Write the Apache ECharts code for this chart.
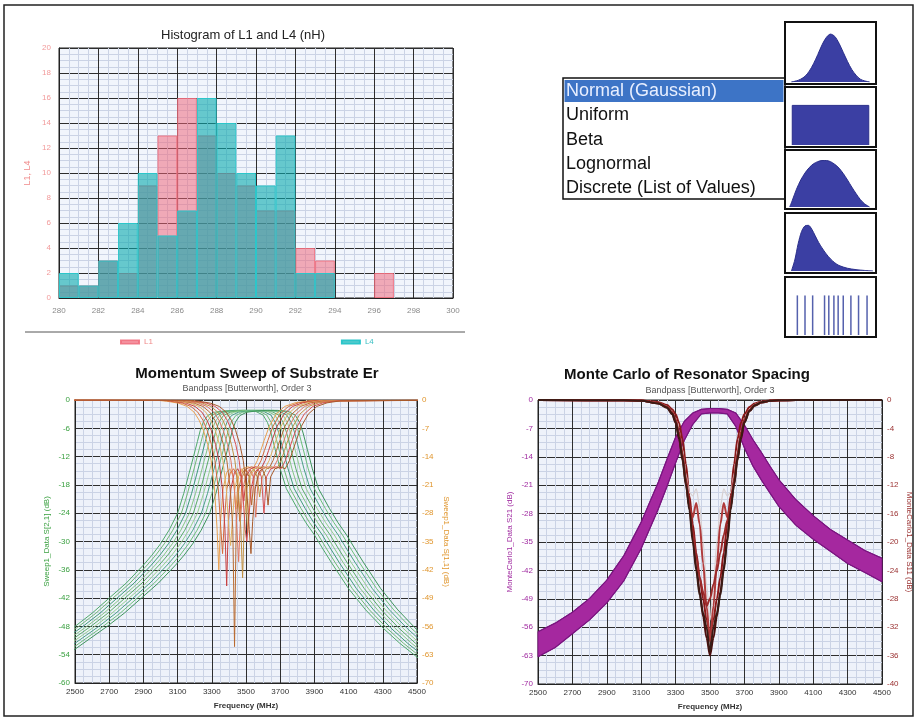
<!DOCTYPE html>
<html><head><meta charset="utf-8">
<script src="https://cdn.jsdelivr.net/npm/echarts@6/dist/echarts.min.js"></script>
<style>html,body{margin:0;padding:0;background:#fff}#c{width:917px;height:721px}</style>
</head><body><div id="c"></div>
<script>
// ---------------- DATA ----------------
// Histogram (bins of 1 nH starting at each value)
const histBins = [280,281,282,283,284,285,286,287,288,289,290,291,292,293,294,295,296,297,298,299];
const histL1   = [1,1,3,2,9,13,16,13,10,9,7,7,4,3,0,0,2,0,0,0];
const histL4   = [2,1,3,6,10,5,7,16,14,10,9,13,2,2,0,0,0,0,0,0];

// Distribution list
const distNames = ['Normal (Gaussian)','Uniform','Beta','Lognormal','Discrete (List of Values)'];
const gaussX = [0.04,0.1,0.15,0.2,0.25,0.3,0.35,0.4,0.45,0.5,0.55,0.6,0.65,0.7,0.75,0.8,0.85,0.9,0.96];
const gaussY = [0,0.02,0.05,0.1,0.19,0.32,0.48,0.65,0.78,0.84,0.8,0.68,0.52,0.36,0.22,0.12,0.05,0.02,0];
const uniformX = [0.05,0.05,0.95,0.95];
const uniformY = [0,0.72,0.72,0];
const betaX = [0.02,0.05,0.1,0.15,0.2,0.25,0.3,0.35,0.4,0.45,0.5,0.55,0.6,0.65,0.7,0.75,0.8,0.85,0.9,0.96];
const betaY = [0,0.12,0.33,0.5,0.63,0.73,0.8,0.84,0.86,0.86,0.84,0.79,0.72,0.62,0.5,0.37,0.25,0.14,0.06,0];
const lognX = [0.04,0.08,0.12,0.16,0.2,0.24,0.28,0.32,0.36,0.4,0.45,0.5,0.55,0.6,0.7,0.8,0.9,1.0];
const lognY = [0,0.2,0.5,0.72,0.82,0.83,0.76,0.64,0.52,0.42,0.31,0.22,0.15,0.1,0.05,0.025,0.01,0];
const discreteX = [0.11,0.2,0.29,0.43,0.48,0.54,0.59,0.65,0.74,0.83,0.93];
const discreteY = [0.72,0.72,0.72,0.72,0.72,0.72,0.72,0.72,0.72,0.72,0.72];

// Momentum sweep: S21 profile (offset MHz from each curve's centre, dB) and curve centres
const sweepCenters = [3436,3458,3482,3505,3528,3552,3575,3600,3624];
const s21Offsets = [-1350,-1150,-936,-836,-736,-636,-536,-486,-436,-386,-336,-300,-270,-243,-220,-204,-185,-160,-120,-60,0,60,120,164,190,210,235,264,300,364,414,464,514,564,664,764,864,964,1064,1200,1400];
const s21Profile = [-58,-53.5,-48,-45.2,-42,-38.8,-35,-32.9,-30.5,-27.6,-24,-19.8,-15.7,-12,-8.8,-6.5,-4.6,-3.3,-2.6,-2.3,-2.2,-2.2,-2.4,-3.2,-4.8,-7,-10.5,-14.6,-18.8,-23,-26,-28.6,-31.6,-34.5,-40,-44.5,-48.3,-51.6,-54.5,-58,-62];
// S11 profile (right axis dB) with per-curve notch depths
const s11Offsets = [-1400,-450,-400,-330,-280,-240,-210,-185,-160,-140,-120,-105,-95,-85,-70,-50,-30,-10,5,20,45,75,105,130,150,170,200,240,290,350,430,1400];
const s11Profile = [0,-0.1,-0.3,-0.8,-1.6,-3,-5,-7.5,-11,-15,-22,-32,-40,-30,-22,-18,-17,-19,-24,-19,-17,-16.5,-17,-15,-12.5,-10,-6.5,-3.5,-1.6,-0.7,-0.2,0];
const s11Notch1 = [-42,-38,-46,-36,-61,-40,-44,-35,-38];
const s11Notch2 = [-27,-30,-25,-33,-26,-29,-24,-28,-26];

// Monte Carlo: S21 band (upper/lower envelope, left axis) and S11 curves (right axis)
const mcBandF = [2500,2600,2700,2800,2900,3000,3100,3200,3250,3300,3350,3400,3450,3500,3550,3600,3650,3700,3750,3800,3850,3900,4000,4100,4200,4300,4400,4500];
const mcBandUpper = [-57.1,-55,-52.3,-48.9,-44.4,-38.3,-30.1,-20.2,-14.6,-9.2,-5.3,-3.2,-2.3,-2.1,-2.1,-2.3,-3.2,-6.2,-9.8,-13,-16.4,-19.6,-24.6,-28.5,-31.9,-34.5,-37.1,-39];
const mcBandLower = [-63.3,-61,-57.6,-54.2,-50,-44.5,-36.6,-26.8,-21.3,-15.5,-10,-6,-3.4,-3.2,-3.2,-3.4,-6.5,-11.8,-16.3,-19.8,-23,-26.2,-30.9,-34.3,-37.3,-40.3,-42.5,-44.8];
const mcS11F = [2500,3000,3100,3200,3250,3280,3300,3320,3340,3360,3380,3400,3420,3440,3460,3480,3500,3520,3540,3560,3580,3600,3620,3640,3660,3680,3700,3730,3760,3800,3850,3900,4000,4500];
const mcS11A = [0,-0.05,-0.1,-0.5,-1.1,-2,-3.2,-5.5,-8.5,-12,-15,-19.5,-23.5,-27,-30.5,-33.5,-36,-33.5,-30.5,-27,-23.5,-19.5,-15,-12,-8.5,-5.5,-3.2,-1.6,-0.8,-0.35,-0.12,-0.05,0,0];
const mcS11B = [0,-0.03,-0.07,-0.3,-0.7,-1.3,-2,-3.2,-5.5,-9,-13.5,-17.5,-21.5,-25,-28,-31,-33,-31,-28,-25,-21.5,-17.5,-13.5,-9,-5.5,-3.2,-2,-1,-0.5,-0.2,-0.08,-0.03,0,0];
const mcS11C = [0,-0.04,-0.08,-0.4,-0.9,-1.6,-2.6,-4.3,-7,-10.5,-13,-13.5,-12.5,-15,-20,-26,-31,-26,-20,-15,-12.5,-13.5,-13,-10.5,-7,-4.3,-2.6,-1.3,-0.6,-0.25,-0.1,-0.04,0,0];
const mcS11D = [0,-0.04,-0.09,-0.45,-1,-1.8,-2.9,-4.8,-7.8,-11.5,-15,-16.5,-14.5,-17.5,-23,-29,-34,-29,-23,-17.5,-14.5,-16.5,-15,-11.5,-7.8,-4.8,-2.9,-1.4,-0.7,-0.3,-0.1,-0.04,0,0];
const mcS11E = [0,-0.04,-0.08,-0.4,-0.95,-1.7,-2.7,-4.5,-7.5,-11,-14.5,-18.5,-22,-25,-27,-29,-28,-26,-24,-21.5,-19,-17,-14.5,-11,-7.5,-4.5,-2.7,-1.4,-0.7,-0.3,-0.1,-0.04,0,0];
const mcS11G = [0,-0.05,-0.1,-0.5,-1.05,-1.9,-3.1,-5.2,-8.2,-11.8,-15.5,-20,-24,-27.5,-30,-32,-35.5,-32,-30,-27.5,-24,-20,-15.5,-11.8,-8.2,-5.2,-3.1,-1.5,-0.75,-0.32,-0.11,-0.05,0,0];
const mcS11Curves = [mcS11A, mcS11B, mcS11C, mcS11D, mcS11E, mcS11G];

// ---------------- STYLE ----------------
const FONT = 'Liberation Sans, Arial, sans-serif';
const greens = ['#4fa86a','#6fb873','#3f9a78','#84c584','#5aab66','#93cf8e','#4aa184','#6cbf7a','#3e955c'];
const oranges = ['#e8a050','#d46a3a','#c84040','#e0b060','#b86a30','#e07860','#c09040','#d85050','#a85a2a'];
const mcS11Colors = ['#4a0d0d','#8a1818','#d8d0d0','#b03a3a','#9c2a2a','#3a1a14'];
const iconBlue = '#3b3fa3';
const plain = v => String(v);

const chart = echarts.init(document.getElementById('c'));

const majorLine = {show:true, lineStyle:{color:'#2e2e2e', width:1}};
const minorLine = {show:true, lineStyle:{color:'#cbd3e5', width:1}};
function gridAxis(extra){
  return Object.assign({type:'value', axisTick:{show:false}, splitLine:majorLine,
    minorTick:{show:false, splitNumber:4}, minorSplitLine:minorLine,
    axisLine:{show:true, onZero:false, lineStyle:{color:'#222'}}}, extra);
}
function hiddenAxis(gi){
  return {type:'value', gridIndex:gi, min:0, max:1, show:false, splitLine:{show:false}};
}
function lbl(color, margin){ return {color:color, fontSize:8, margin:margin, fontFamily:FONT, formatter:plain}; }

const iconBoxes = [[785,22,91,62],[785,87,91,60],[785,150,91,59],[785,213,91,60],[785,277,91,60]];

const grids = [
  {left:59, top:48, width:394, height:250, show:true, backgroundColor:'#f1f5fc', borderColor:'#222', borderWidth:1},
  {left:75, top:400, width:342, height:283, show:true, backgroundColor:'#eef2fa', borderColor:'#222', borderWidth:1},
  {left:538, top:400, width:344, height:284, show:true, backgroundColor:'#eef2fa', borderColor:'#222', borderWidth:1}
];
iconBoxes.forEach(b => grids.push({left:b[0]+3, top:b[1]+3, width:b[2]-6, height:b[3]-5}));

const freqName = {name:'Frequency (MHz)', nameLocation:'middle', nameGap:19,
  nameTextStyle:{fontSize:8, color:'#333', fontWeight:'bold', fontFamily:FONT}};
const xAxes = [
  gridAxis({gridIndex:0, min:280, max:300, interval:2, axisLabel:lbl('#8a8a8a', 9)}),
  gridAxis(Object.assign({gridIndex:1, min:2500, max:4500, interval:200, axisLabel:lbl('#333', 5)}, freqName)),
  gridAxis(Object.assign({gridIndex:2, min:2500, max:4500, interval:200, axisLabel:lbl('#333', 5)}, freqName))
];
for (let i=0;i<5;i++) xAxes.push(hiddenAxis(3+i));

const yAxes = [
  gridAxis({gridIndex:0, min:0, max:20, interval:2, name:'L1, L4', nameLocation:'middle', nameGap:27,
    nameTextStyle:{color:'#f08a8a', fontSize:9, fontFamily:FONT}, axisLabel:lbl('#f29a9a', 8)}),
  gridAxis({gridIndex:1, min:-60, max:0, interval:6, name:'Sweep1_Data S[2,1] (dB)', nameLocation:'middle', nameGap:24,
    nameTextStyle:{color:'#3aa040', fontSize:8, fontFamily:FONT}, axisLabel:lbl('#3aa040', 5)}),
  {type:'value', gridIndex:1, position:'right', min:-70, max:0, interval:7, name:'Sweep1_Data S[1,1] (dB)', nameLocation:'middle', nameGap:25, nameRotate:-90,
    nameTextStyle:{color:'#e0962e', fontSize:8, fontFamily:FONT}, axisLabel:lbl('#e0962e', 5),
    axisLine:{show:true, lineStyle:{color:'#222'}}, axisTick:{show:false}, splitLine:{show:false}},
  gridAxis({gridIndex:2, min:-70, max:0, interval:7, name:'MonteCarlo1_Data S21 (dB)', nameLocation:'middle', nameGap:24,
    nameTextStyle:{color:'#a02aa0', fontSize:8, fontFamily:FONT}, axisLabel:lbl('#a02aa0', 5)}),
  {type:'value', gridIndex:2, position:'right', min:-40, max:0, interval:4, name:'MonteCarlo1_Data S11 (dB)', nameLocation:'middle', nameGap:23, nameRotate:-90,
    nameTextStyle:{color:'#9a3030', fontSize:8, fontFamily:FONT}, axisLabel:lbl('#9a3030', 5),
    axisLine:{show:true, lineStyle:{color:'#222'}}, axisTick:{show:false}, splitLine:{show:false}}
];
for (let i=0;i<5;i++) yAxes.push(hiddenAxis(3+i));

const series = [];
// Histogram
series.push({name:'L1', type:'bar', xAxisIndex:0, yAxisIndex:0, barWidth:'100%', barGap:'-100%',
  data: histBins.map((b,i)=>[b+0.5, histL1[i]]).filter(d=>d[1]>0),
  itemStyle:{color:'rgba(240,100,118,0.52)', borderColor:'rgba(240,110,125,0.9)', borderWidth:1}});
series.push({name:'L4', type:'bar', xAxisIndex:0, yAxisIndex:0, barWidth:'100%', barGap:'-100%',
  data: histBins.map((b,i)=>[b+0.5, histL4[i]]).filter(d=>d[1]>0),
  itemStyle:{color:'rgba(10,170,174,0.6)', borderColor:'#2cc6ca', borderWidth:1}});

// Momentum sweep S21 (green) and S11 (orange)
sweepCenters.forEach((c,k)=>{
  series.push({type:'line', xAxisIndex:1, yAxisIndex:1, symbol:'none', silent:true,
    lineStyle:{width:1, color:greens[k]}, data: s21Offsets.map((o,i)=>[c+o, s21Profile[i]])});
});
sweepCenters.forEach((c,k)=>{
  const vals = s11Profile.slice();
  vals[12] = s11Notch1[k];
  vals[18] = s11Notch2[k];
  series.push({type:'line', xAxisIndex:1, yAxisIndex:2, symbol:'none', silent:true,
    lineStyle:{width:1, color:oranges[k]}, data: s11Offsets.map((o,i)=>[c+o, vals[i]])});
});

// Monte Carlo S21 band
series.push({type:'custom', xAxisIndex:2, yAxisIndex:3, silent:true,
  data: mcBandF.map((f,i)=>[f, mcBandUpper[i], mcBandLower[i]]),
  encode:{x:0, y:[1,2]},
  renderItem: function(params, api){
    if (params.dataIndex !== 0) return null;
    const up = mcBandF.map((f,i)=>api.coord([f, mcBandUpper[i]]));
    const lo = mcBandF.map((f,i)=>api.coord([f, mcBandLower[i]])).reverse();
    return {type:'polygon', shape:{points: up.concat(lo)}, style:{fill:'#a5289f', stroke:'#7e1782', lineWidth:1}};
  }});
series.push({type:'line', xAxisIndex:2, yAxisIndex:3, symbol:'none', silent:true,
  lineStyle:{width:1.2, color:'#7a1580'}, data: mcBandF.map((f,i)=>[f, mcBandUpper[i]])});
series.push({type:'line', xAxisIndex:2, yAxisIndex:3, symbol:'none', silent:true,
  lineStyle:{width:1.2, color:'#7a1580'}, data: mcBandF.map((f,i)=>[f, mcBandLower[i]])});
// Monte Carlo S11 curves
mcS11Curves.forEach((arr,k)=>{
  series.push({type:'line', xAxisIndex:2, yAxisIndex:4, symbol:'none', smooth:0.3, smoothMonotone:'x', silent:true,
    lineStyle:{width:k===2?1.2:2, color:mcS11Colors[k]}, data: mcS11F.map((f,i)=>[f, arr[i]])});
});

// Distribution icons
const iconSets = [[gaussX,gaussY],[uniformX,uniformY],[betaX,betaY],[lognX,lognY]];
iconSets.forEach((s,k)=>{
  series.push({type:'line', xAxisIndex:3+k, yAxisIndex:5+k, symbol:'none', smooth:k===1?false:0.3, silent:true,
    lineStyle:{width:1, color:'#2a2e8a'}, areaStyle:{color:iconBlue, opacity:1},
    data: s[0].map((x,i)=>[x, s[1][i]])});
});
series.push({type:'bar', xAxisIndex:7, yAxisIndex:9, barWidth:1.5, silent:true,
  itemStyle:{color:'#5561ad'}, data: discreteX.map((x,i)=>[x, discreteY[i]])});

// Graphics: titles, list box, icon frames, separators
const graphics = [
  {type:'rect', shape:{x:4, y:5, width:909, height:711}, style:{fill:'none', stroke:'#222', lineWidth:1.5}, z:200},
  {type:'text', x:243, y:35, style:{text:'Histogram of L1 and L4 (nH)', font:'13px '+FONT, fill:'#222', align:'center', verticalAlign:'middle'}},
  {type:'line', shape:{x1:25, y1:332, x2:465, y2:332}, style:{stroke:'#555', lineWidth:1}},
  {type:'text', x:257, y:374, style:{text:'Momentum Sweep of Substrate Er', font:'bold 15px '+FONT, fill:'#111', align:'center', verticalAlign:'middle'}},
  {type:'text', x:247, y:389, style:{text:'Bandpass [Butterworth], Order 3', font:'9px '+FONT, fill:'#555', align:'center', verticalAlign:'middle'}},
  {type:'text', x:687, y:375, style:{text:'Monte Carlo of Resonator Spacing', font:'bold 15px '+FONT, fill:'#111', align:'center', verticalAlign:'middle'}},
  {type:'text', x:710, y:391, style:{text:'Bandpass [Butterworth], Order 3', font:'9px '+FONT, fill:'#555', align:'center', verticalAlign:'middle'}},
  {type:'rect', shape:{x:563, y:78, width:222, height:121}, style:{fill:'#fff', stroke:'#111', lineWidth:1.5}},
  {type:'rect', shape:{x:564.5, y:80, width:219, height:22}, style:{fill:'#3d74c6'}}
];
distNames.forEach((n,i)=>{
  graphics.push({type:'text', x:566, y:91 + i*24.3, style:{text:n, font:'18px '+FONT, fill: i===0 ? '#e8efff' : '#111', verticalAlign:'middle'}});
});
iconBoxes.forEach(b=>{
  graphics.push({type:'rect', shape:{x:b[0], y:b[1], width:b[2], height:b[3]}, style:{fill:'none', stroke:'#111', lineWidth:2}, z:100});
});

chart.setOption({
  animation:false,
  backgroundColor:'#fff',
  textStyle:{fontFamily:FONT},
  grid:grids,
  xAxis:xAxes,
  yAxis:yAxes,
  legend:{data:[{name:'L1', textStyle:{color:'#f08a8a'}},{name:'L4', textStyle:{color:'#3cc0c4'}}],
    left:115, top:333, itemGap:188, itemWidth:18, itemHeight:3, icon:'rect', selectedMode:false,
    textStyle:{fontSize:8, fontFamily:FONT}},
  graphic:graphics,
  series:series
});
</script>
</body></html>
